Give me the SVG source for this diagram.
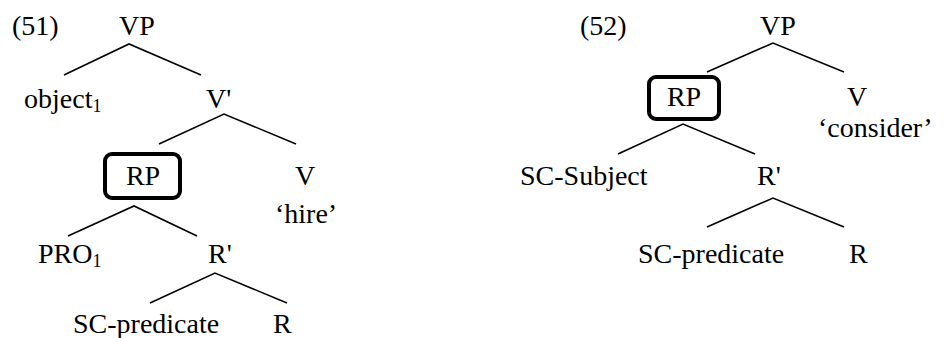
<svg xmlns="http://www.w3.org/2000/svg" width="946" height="338" viewBox="0 0 946 338" font-family="Liberation Serif, Times New Roman, serif" font-size="28">
<style>
.sub{font-size:18px}
.m{text-anchor:middle}
.edge{stroke:#000;stroke-width:1.6;fill:none;stroke-linecap:butt}
.box{fill:none;stroke:#000;stroke-width:4}
</style>
<rect width="946" height="338" fill="#fff"/>
<g id="connectors">
<path class="edge" d="M64 75L129 44L201 75"/>
<path class="edge" d="M159 144L224 114L296 144"/>
<path class="edge" d="M68 236L134 206L197 236"/>
<path class="edge" d="M150 303L215 273L287 303"/>
<path class="edge" d="M707 72L773 43L844 72"/>
<path class="edge" d="M618 154L683 124L755 154"/>
<path class="edge" d="M707 227L773 198L844 227"/>
</g>
<g id="label51"><text x="12" y="35">(51)</text></g>
<g id="vp51"><text x="119" y="35">VP</text></g>
<g id="object51"><text x="24" y="108">object<tspan class="sub" dy="4">1</tspan></text></g>
<g id="vbar51"><text x="206" y="108">V'</text></g>
<g id="rp51"><rect class="box" x="105" y="154" width="75" height="44" rx="7"/><text class="m" x="143" y="185">RP</text></g>
<g id="v51"><text class="m" x="305" y="185">V</text><text x="275" y="223">‘hire’</text></g>
<g id="pro51"><text x="38" y="263">PRO<tspan class="sub" dy="4">1</tspan></text></g>
<g id="rbar51"><text x="208" y="263">R'</text></g>
<g id="scpred51"><text x="73" y="333">SC-predicate</text></g>
<g id="r51"><text x="273" y="333">R</text></g>
<g id="label52"><text x="580" y="35">(52)</text></g>
<g id="vp52"><text x="760" y="35">VP</text></g>
<g id="rp52"><rect class="box" x="649" y="77" width="70" height="42" rx="7"/><text class="m" x="684" y="106">RP</text></g>
<g id="v52"><text class="m" x="857" y="106">V</text><text x="818" y="137">‘consider’</text></g>
<g id="scsubj52"><text x="520" y="185">SC-Subject</text></g>
<g id="rbar52"><text x="757" y="185">R'</text></g>
<g id="scpred52"><text x="638" y="263">SC-predicate</text></g>
<g id="r52"><text x="849" y="263">R</text></g>
</svg>
